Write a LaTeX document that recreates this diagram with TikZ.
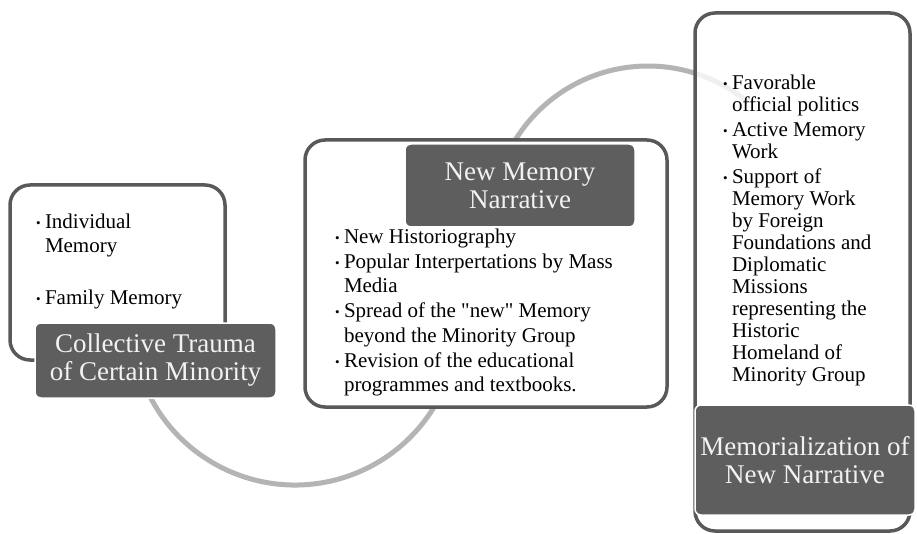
\documentclass[tikz,border=0pt]{standalone}
\usepackage{fontspec}
\setmainfont{Liberation Serif}
\usetikzlibrary{positioning}
\definecolor{framegray}{HTML}{595959}
\definecolor{headgray}{HTML}{5E5E5E}
\definecolor{arcgray}{HTML}{B4B4B4}
\definecolor{headtext}{HTML}{F2F2F2}
\newcommand{\bul}{\makebox[9pt][l]{\raisebox{1pt}{\fontsize{13}{13}\selectfont\textbullet}}}
\newcommand{\ind}{\hspace*{9pt}}
\tikzstyle{frame}=[draw=framegray,line width=3.5pt,rounded corners=20pt,fill=white]
\tikzstyle{headbox}=[fill=headgray,draw=white,line width=1.5pt,rounded corners=6pt,text=headtext,align=center,inner sep=0pt,font=\fontsize{27}{28}\selectfont]
\tikzstyle{bullets}=[align=left,inner sep=0pt,text=black,font=\fontsize{21}{24}\selectfont]
\tikzstyle{linkarc}=[draw=arcgray,line width=5pt]
\begin{document}
\begin{tikzpicture}[x=1pt,y=-1pt,every node/.style={outer sep=0pt}]
\useasboundingbox[fill=white] (0,0) rectangle (917,534);
%
\coordinate (lowc) at (295,322);
\coordinate (upc) at (648,222);
\draw[linkarc] (lowc) ++(160:163) arc[start angle=160,end angle=25,radius=163];
\draw[linkarc] (upc) ++(205:156) arc[start angle=205,end angle=310,radius=156];
%
\node[frame,minimum width=215,minimum height=175] (trauma) at (117.5,272.5) {};
\node[bullets,below right=29pt and 26pt of trauma.north west] (traumalist) {\bul Individual\\ \ind Memory\\[28pt]\bul Family Memory};
\node[headbox,minimum width=241,minimum height=75] (traumahead) at (155.5,360.5) {Collective Trauma\\of Certain Minority};
%
\node[frame,minimum width=362,minimum height=267] (narr) at (486,273.5) {};
\node[headbox,minimum width=230,minimum height=83] (narrhead) at (520,185.5) {New Memory\\Narrative};
\node[bullets,font=\fontsize{21}{24.7}\selectfont,below right=89pt and 30pt of narr.north west] (narrlist) {\bul New Historiography\\
\bul Popular Interpertations by Mass\\ \ind Media\\
\bul Spread of the \textquotedbl new\textquotedbl{} Memory\\ \ind beyond the Minority Group\\
\bul Revision of the educational\\ \ind programmes and textbooks.};
%
\node[frame,fill opacity=0.8,minimum width=215,minimum height=518] (memo) at (802.5,272) {};
\node[bullets,font=\fontsize{21}{22}\selectfont,below right=62pt and 28pt of memo.north west] (memolist) {\bul Favorable\\ \ind official politics\\[3pt]
\bul Active Memory\\ \ind Work\\[3pt]
\bul Support of\\ \ind Memory Work\\ \ind by Foreign\\ \ind Foundations and\\ \ind Diplomatic\\ \ind Missions\\ \ind representing the\\ \ind Historic\\ \ind Homeland of\\ \ind Minority Group};
\node[headbox,minimum width=220,minimum height=110] (memohead) at (805,460) {Memorialization of\\New Narrative};
%
\end{tikzpicture}
\end{document}
